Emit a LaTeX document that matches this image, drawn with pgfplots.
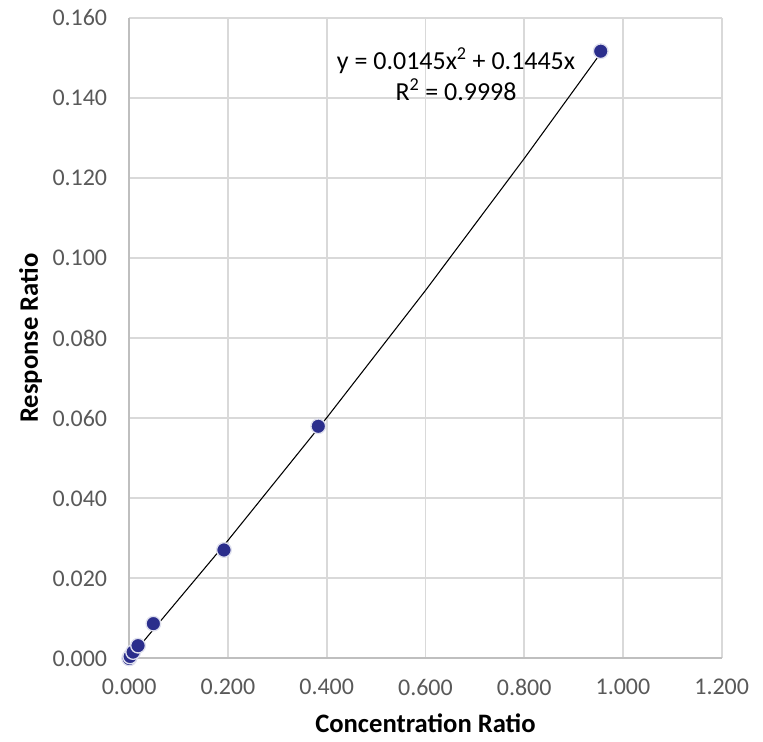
\documentclass[border=0pt]{standalone}
\usepackage{fontspec}
\setmainfont{Carlito}
\usepackage{pgfplots}
\pgfplotsset{compat=1.18}
\definecolor{ptblue}{HTML}{2B2E8C}
\definecolor{gridgray}{HTML}{D9D9D9}
\definecolor{axisgray}{HTML}{BFBFBF}
\definecolor{ticktext}{HTML}{595959}
\begin{document}
\begin{tikzpicture}
\begin{axis}[
  scale only axis,
  width=445pt,
  height=481pt,
  xmin=0, xmax=1.2,
  ymin=0, ymax=0.16,
  xtick={0,0.2,...,1.2},
  ytick={0,0.02,...,0.16},
  /pgf/number format/assume math mode=true,
  ticklabel style={font=\fontsize{18}{21}\selectfont, text=ticktext},
  xticklabel style={yshift=-12pt, /pgf/number format/.cd,fixed,fixed zerofill,precision=3},
  yticklabel style={xshift=-13pt, /pgf/number format/.cd,fixed,fixed zerofill,precision=3},
  grid=major,
  major grid style={gridgray, line width=1.4pt},
  axis line style={draw=none},
  axis x line*=bottom,
  axis y line*=left,
  tick style={draw=none},
  xlabel={\textbf{Concentration Ratio}},
  ylabel={\textbf{Response Ratio}},
  label style={font=\fontsize{20}{24}\selectfont},
  xlabel style={at={(rel axis cs:0.5,0)}, anchor=center, yshift=-49pt},
  ylabel style={at={(rel axis cs:0,0.5)}, anchor=center, yshift=74pt},
  clip=false,
]
\path (rel axis cs:0,0) ++(-97pt,-62pt);
\path (rel axis cs:1,1) ++(31pt,13.5pt);
\draw[axisgray, line width=1.5pt] (axis cs:0,0) -- (axis cs:1.2,0);
\draw[axisgray, line width=1.5pt] (axis cs:0,0) -- (axis cs:0,0.16);
\addplot[black, line width=0.8pt, no marks] coordinates {
  (0,0) (0.2,0.02948) (0.4,0.06012) (0.6,0.09192) (0.8,0.12488) (0.955,0.15122)
};
\addplot[only marks, mark=*, mark size=5.5pt,
  mark options={fill=ptblue, draw=white!85!ptblue, line width=1pt}] coordinates {
  (0.0,0.0) (0.002,0.0005) (0.008,0.0016) (0.018,0.0032)
  (0.049,0.0087) (0.192,0.0271) (0.383,0.0580) (0.955,0.1517)
};
\node[font=\fontsize{19.5}{23}\selectfont, align=center, anchor=center]
  at (axis cs:0.662,0.146) {y = 0.0145x\textsuperscript{2} + 0.1445x\\R\textsuperscript{2} = 0.9998};
\end{axis}
\end{tikzpicture}
\end{document}
